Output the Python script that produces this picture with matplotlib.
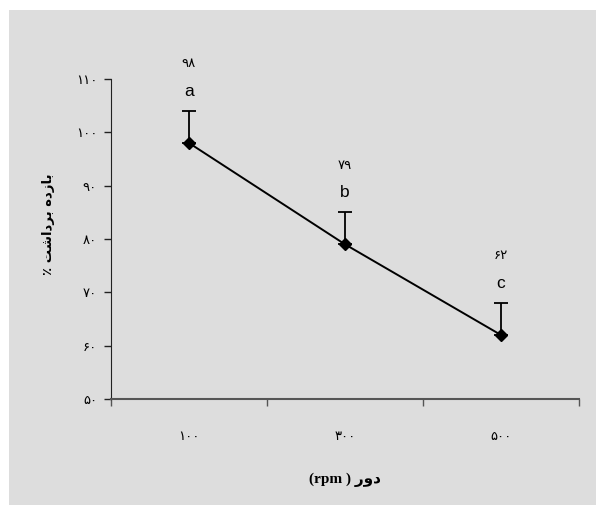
import numpy as np
import matplotlib
matplotlib.use('Agg')
import matplotlib.pyplot as plt
from matplotlib.patches import Rectangle

# data
speeds = ['100', '300', '500']          # rpm
recovery = [98, 79, 62]                 # percent
err_up = [6, 6, 6]
groups = ['a', 'b', 'c']
yticks = [50, 60, 70, 80, 90, 100, 110]

fa = str.maketrans('0123456789', '۰۱۲۳۴۵۶۷۸۹')
def fa_num(v):
    return str(v).translate(fa)

# Persian labels, already shaped (presentation forms) and in visual order
ylab = '٪ ' + 'ﺖﺷﺍﺩﺮﺑ' + ' ' + 'ﻩﺩﺯﺎﺑ'
xlab = '(rpm ) ' + 'ﺭﻭﺩ'

fig = plt.figure(figsize=(5.96, 5.05), dpi=100, facecolor='white')
fig.patches.append(Rectangle((9/596, 0), 1 - 9/596, 1 - 10/505,
                             transform=fig.transFigure, facecolor='#dddddd',
                             edgecolor='none', zorder=-5))

ax = fig.add_axes([111/596, 1 - 399/505, (579 - 111)/596, (399 - 79)/505])
ax.set_facecolor('none')

x = np.arange(len(speeds)) + 0.5
ax.errorbar(x, recovery, yerr=[np.zeros(len(err_up)), err_up], fmt='none',
            ecolor='black', elinewidth=1.3, capsize=5, capthick=1.3, zorder=2)
ax.plot(x, recovery, color='black', lw=1.4, marker='D', markersize=6,
        markerfacecolor='black', zorder=3)

for xi, v, e, g in zip(x, recovery, err_up, groups):
    ax.annotate(g, (xi, v + e), xytext=(0, 14), textcoords='offset points',
                ha='center', va='center', fontsize=12.5, family='Liberation Sans')
    ax.annotate(fa_num(v), (xi, v + e), xytext=(0, 34), textcoords='offset points',
                ha='center', va='center', fontsize=9.5, family='DejaVu Sans',
                annotation_clip=False)

ax.set_xlim(0, len(speeds))
ax.set_ylim(50, 110)
ax.set_yticks(yticks)
ax.set_yticklabels([fa_num(t) for t in yticks], fontsize=9.5, family='DejaVu Sans')
ax.set_xticks(np.arange(len(speeds) + 1))
ax.set_xticklabels([])
ax.set_xticks(x, minor=True)
ax.set_xticklabels([fa_num(s) for s in speeds], minor=True, fontsize=9.5,
                   family='DejaVu Sans')
ax.tick_params(axis='x', which='minor', length=0, pad=22)
ax.tick_params(axis='x', which='major', length=5, width=1, color='#555555')
ax.tick_params(axis='y', length=5, width=1, color='#222222', pad=5)

for s in ['top', 'right']:
    ax.spines[s].set_visible(False)
ax.spines['left'].set_color('#222222')
ax.spines['bottom'].set_color('#555555')
ax.spines['bottom'].set_linewidth(1.5)

ax.set_ylabel(ylab, fontsize=9.5, fontweight='bold', family='DejaVu Sans')
ax.yaxis.set_label_coords(-0.12, 0.545)
ax.set_xlabel(xlab, fontsize=11, fontweight='bold',
              family=['Liberation Serif', 'DejaVu Sans'], labelpad=22)

fig.savefig('out.png', dpi=100, facecolor=fig.get_facecolor())
